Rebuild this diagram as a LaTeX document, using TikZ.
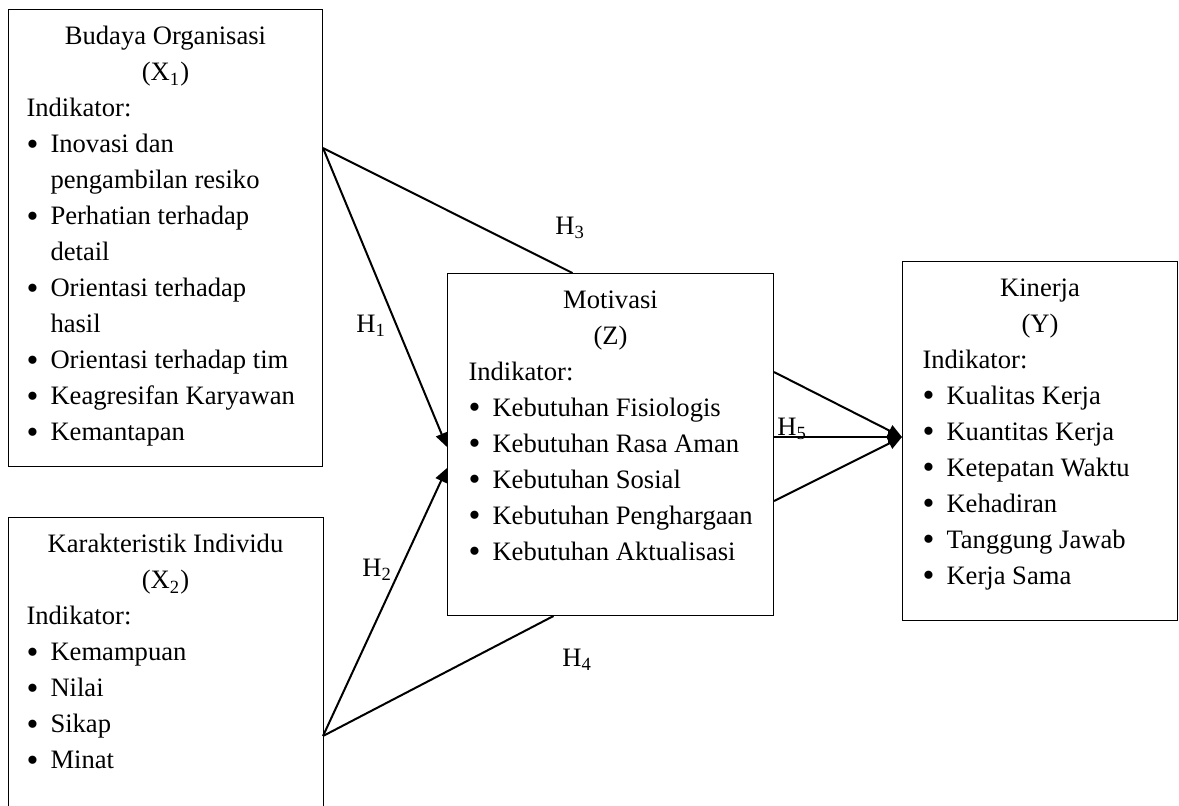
\documentclass[tikz,border=0pt]{standalone}
\usepackage{fontspec}
\setmainfont{Liberation Serif}
\usetikzlibrary{arrows.meta,calc}
\tikzset{>={Triangle[length=7pt,width=6pt]}, line/.style={line width=1pt},
varbox/.style={draw, line width=0.5pt, anchor=north west, inner xsep=9pt, inner ysep=8.5pt, font=\fontsize{13.3}{18}\selectfont},
hyp/.style={inner sep=0pt, anchor=base west, font=\fontsize{13.3}{18}\selectfont}}
\newcommand{\indi}[1]{\makebox[12pt][l]{\raisebox{-1.2pt}{\fontsize{17}{18}\selectfont\textbullet}}\mbox{#1}}
\newcommand{\indicont}[1]{\hspace*{12pt}\mbox{#1}}
\newcommand{\varbody}[3]{\parbox[c][#2][t]{#1}{\raggedright #3}}

\begin{document}
\begin{tikzpicture}[x=0.5pt,y=-0.5pt]
\useasboundingbox (0,0) rectangle (1179,805);

\node[varbox] (budaya) at (8,9) {\varbody{139pt}{211.5pt}{%
{\centering Budaya Organisasi\\(X\textsubscript{1})\par}
Indikator:\\
\indi{Inovasi dan}\\
\indicont{pengambilan resiko}\\
\indi{Perhatian terhadap}\\
\indicont{detail}\\
\indi{Orientasi terhadap}\\
\indicont{hasil}\\
\indi{Orientasi terhadap tim}\\
\indi{Keagresifan Karyawan}\\
\indi{Kemantapan}}};

\node[varbox, draw=none] (karakter) at (8,517) {\varbody{139pt}{127pt}{%
{\centering Karakteristik Individu\\(X\textsubscript{2})\par}
Indikator:\\
\indi{Kemampuan}\\
\indi{Nilai}\\
\indi{Sikap}\\
\indi{Minat}}};
% box runs off the page bottom
\draw[line width=0.5pt] (karakter.south west) -- (karakter.north west) -- (karakter.north east) -- (karakter.south east);

\node[varbox, inner xsep=10.5pt] (motivasi) at (447,273) {\varbody{142pt}{154pt}{%
{\centering Motivasi\\(Z)\par}
Indikator:\\
\indi{Kebutuhan Fisiologis}\\
\indi{Kebutuhan Rasa Aman}\\
\indi{Kebutuhan Sosial}\\
\indi{Kebutuhan Penghargaan}\\
\indi{Kebutuhan Aktualisasi}}};

\node[varbox, inner xsep=10pt] (kinerja) at (902,261) {\varbody{117.5pt}{162.5pt}{%
{\centering Kinerja\\(Y)\par}
Indikator:\\
\indi{Kualitas Kerja}\\
\indi{Kuantitas Kerja}\\
\indi{Ketepatan Waktu}\\
\indi{Kehadiran}\\
\indi{Tanggung Jawab}\\
\indi{Kerja Sama}}};

% connector ends on the box sides
\coordinate (bout) at ($(budaya.north east)+(0,139)$);
\coordinate (kout) at ($(karakter.north east)+(0,219)$);
\coordinate (zin1) at ($(motivasi.north west)+(0,174)$);
\coordinate (zin2) at ($(motivasi.north west)+(0,195)$);
\coordinate (ztop) at ($(motivasi.north)+(-38,0)$);
\coordinate (zbot) at ($(motivasi.south)+(-57,0)$);
\coordinate (zout1) at ($(motivasi.north east)+(0,99)$);
\coordinate (zout2) at ($(motivasi.north east)+(0,164)$);
\coordinate (zout3) at ($(motivasi.north east)+(0,228)$);
\coordinate (yin) at ($(kinerja.north west)+(0,176)$);

\draw[->,line] (bout) -- (zin1);
\draw[line] (bout) -- (ztop);
\draw[->,line] (kout) -- (zin2);
\draw[line] (kout) -- (zbot);
\foreach \c in {zout1,zout2,zout3}
  \draw[->,line] (\c) -- (yin);

% hypothesis labels
\node[hyp] (hone) at (356,332) {H\textsubscript{1}};
\node[hyp] (htwo) at (362,576) {H\textsubscript{2}};
\node[hyp] (hthree) at (555,234) {H\textsubscript{3}};
\node[hyp] (hfour) at (562,666) {H\textsubscript{4}};
\node[hyp] (hfive) at (777,435) {H\textsubscript{5}};
\end{tikzpicture}
\end{document}
